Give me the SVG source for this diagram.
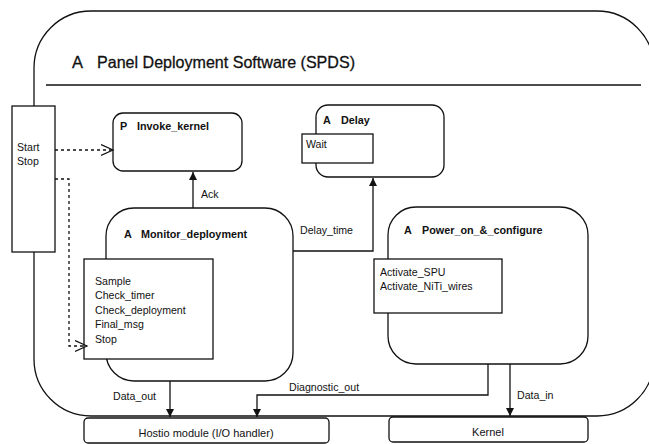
<svg xmlns="http://www.w3.org/2000/svg" width="649" height="444" viewBox="0 0 649 444">
<defs>
<style>
.ln{fill:none;stroke:#111;stroke-width:1.3}
.bx{fill:#fff;stroke:#111;stroke-width:1.3}
.dash{fill:none;stroke:#111;stroke-width:1.3;stroke-dasharray:3,3}
.t{font-family:"Liberation Sans",Arial,sans-serif;font-size:10.6px;fill:#111}
.b{font-family:"Liberation Sans",Arial,sans-serif;font-size:10.8px;font-weight:bold;fill:#111}
.ttl{font-family:"Liberation Sans",Arial,sans-serif;font-size:16.5px;fill:#111;stroke:#111;stroke-width:0.3}
</style>
<marker id="fa" markerUnits="userSpaceOnUse" markerWidth="10" markerHeight="10" refX="8" refY="4" orient="auto">
<path d="M0,0 L8,4 L0,8 Z" fill="#111"/>
</marker>
<marker id="oa" markerUnits="userSpaceOnUse" markerWidth="14" markerHeight="14" refX="12" refY="6" orient="auto">
<path d="M0,0.5 L12,6 L0,11.5" fill="none" stroke="#111" stroke-width="1.2"/>
</marker>
</defs>
<rect width="649" height="444" fill="#fff"/>

<g id="spds">
<rect class="ln" x="34" y="11" width="620" height="405" rx="57" ry="57"/>
<line class="ln" x1="46" y1="85" x2="641" y2="85"/>
<text class="ttl" x="72" y="68">A</text>
<text class="ttl" x="97" y="68" textLength="258" lengthAdjust="spacingAndGlyphs">Panel Deployment Software (SPDS)</text>
</g>

<g id="start_stop">
<rect class="bx" x="12" y="106" width="43" height="146"/>
<text class="t" x="17" y="151">Start</text>
<text class="t" x="17" y="165">Stop</text>
</g>

<g id="invoke_kernel">
<rect class="bx" x="113" y="113" width="129" height="58" rx="10"/>
<text class="b" x="120" y="130">P</text>
<text class="b" x="137" y="130">Invoke_kernel</text>
</g>

<g id="delay">
<rect class="bx" x="316" y="105" width="128" height="72" rx="12"/>
<text class="b" x="323" y="124">A</text>
<text class="b" x="341" y="124">Delay</text>
<rect class="bx" x="302" y="134" width="71" height="29"/>
<text class="t" x="306" y="148">Wait</text>
</g>

<g id="monitor_deployment">
<rect class="bx" x="106" y="208" width="187" height="173" rx="28"/>
<text class="b" x="124" y="238">A</text>
<text class="b" x="141" y="238">Monitor_deployment</text>
<rect class="bx" x="84" y="259" width="129" height="100"/>
<text class="t" x="95" y="285">Sample</text>
<text class="t" x="95" y="299">Check_timer</text>
<text class="t" x="95" y="314">Check_deployment</text>
<text class="t" x="95" y="328">Final_msg</text>
<text class="t" x="95" y="343">Stop</text>
</g>

<g id="power_on_configure">
<rect class="bx" x="388" y="207" width="200" height="157" rx="28"/>
<text class="b" x="404" y="234">A</text>
<text class="b" x="422" y="234">Power_on_&amp;_configure</text>
<rect class="bx" x="374" y="259" width="128" height="54"/>
<text class="t" x="380" y="276">Activate_SPU</text>
<text class="t" x="380" y="290">Activate_NiTi_wires</text>
</g>

<g id="hostio">
<rect class="bx" x="84" y="418" width="245" height="25" rx="4"/>
<text class="t" x="206" y="437" text-anchor="middle" style="font-size:11px">Hostio module (I/O handler)</text>
</g>

<g id="kernel">
<rect class="bx" x="389" y="417" width="199" height="25" rx="4"/>
<text class="t" x="488" y="436" text-anchor="middle" style="font-size:11px">Kernel</text>
</g>

<g id="connectors">
<path class="dash" d="M55,150 H113" marker-end="url(#oa)"/>
<path class="dash" d="M55,179 H69 V346 H87" marker-end="url(#oa)"/>
<path class="ln" d="M193,208 V172" marker-end="url(#fa)"/>
<text class="t" x="201" y="198">Ack</text>
<path class="ln" d="M293,251 H373 V178" marker-end="url(#fa)"/>
<text class="t" x="300" y="234">Delay_time</text>
<path class="ln" d="M170,381 V417" marker-end="url(#fa)"/>
<text class="t" x="113" y="400">Data_out</text>
<path class="ln" d="M488,364 V395 H257 V417" marker-end="url(#fa)"/>
<text class="t" x="289" y="391">Diagnostic_out</text>
<path class="ln" d="M510,364 V416" marker-end="url(#fa)"/>
<text class="t" x="517" y="399">Data_in</text>
</g>
</svg>
